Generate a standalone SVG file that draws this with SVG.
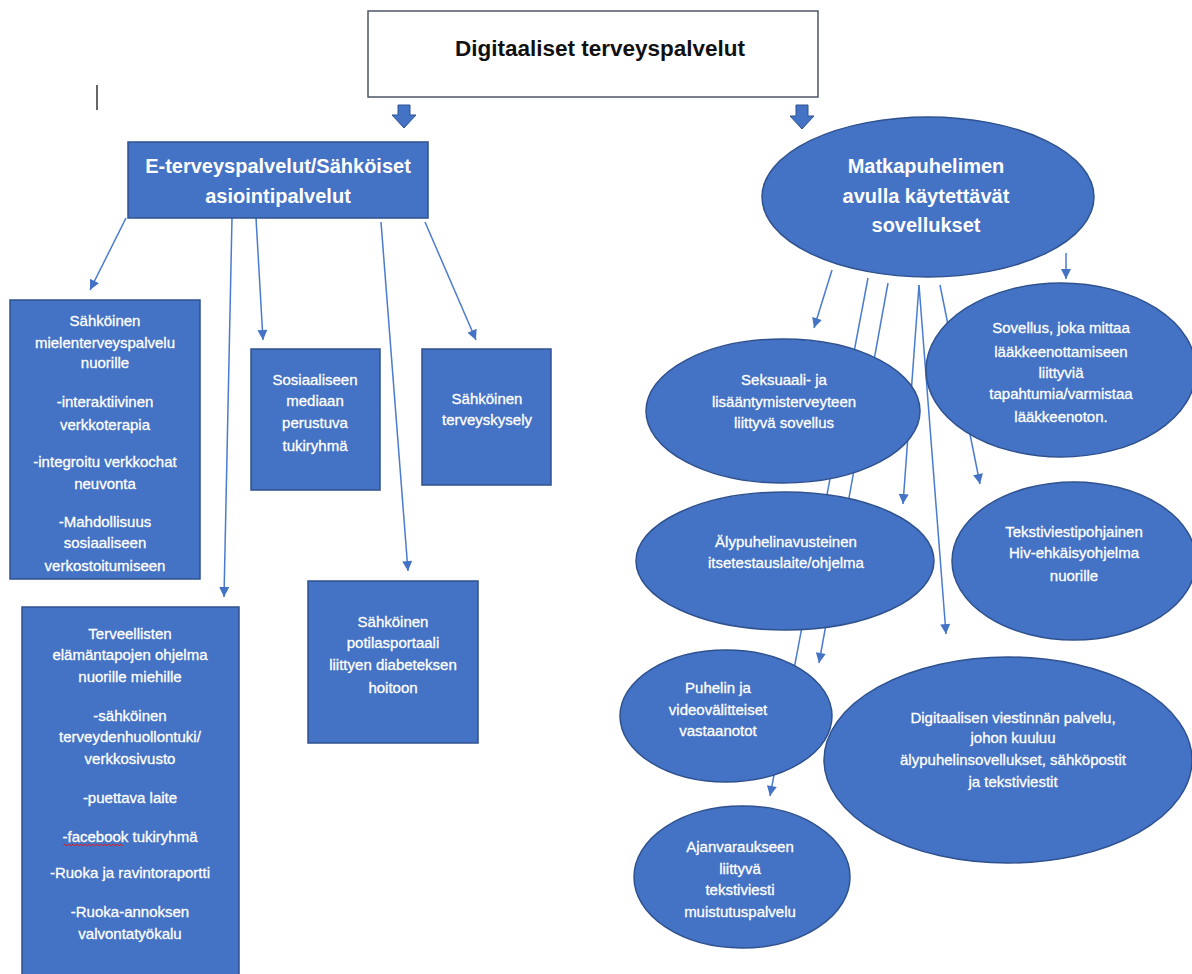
<svg xmlns="http://www.w3.org/2000/svg" width="1192" height="974" viewBox="0 0 1192 974">
<defs>
<marker id="ah" viewBox="0 0 10 10" refX="10" refY="5" markerWidth="11" markerHeight="10" markerUnits="userSpaceOnUse" orient="auto">
<path d="M0,0 L10,5 L0,10 z" fill="#4472C4"/>
</marker>
<style>
.node{fill:#4472C4;stroke:#2F528F;stroke-width:1.5}
.t{font-family:"Liberation Sans",Arial,sans-serif;font-size:15px;fill:#ffffff;stroke:#ffffff;stroke-width:0.3;text-anchor:middle}
.tb{font-family:"Liberation Sans",Arial,sans-serif;font-size:20px;font-weight:bold;fill:#ffffff;text-anchor:middle}
.conn line{stroke:#4A7BD0;stroke-width:1.5;marker-end:url(#ah)}
.barrow{fill:#4472C4;stroke:#2F528F;stroke-width:1}
</style>
</defs>
<rect width="1192" height="974" fill="#ffffff"/>

<line x1="97" y1="85" x2="97" y2="110" stroke="#333" stroke-width="1.5"/>

<g id="conn" class="conn">
<line x1="126" y1="218" x2="90" y2="290"/>
<line x1="232" y1="218" x2="224" y2="597"/>
<line x1="256" y1="218" x2="263" y2="340"/>
<line x1="381" y1="222" x2="408" y2="571"/>
<line x1="425" y1="222" x2="476" y2="340"/>
<line x1="832" y1="270" x2="814" y2="328"/>
<line x1="868" y1="278" x2="770" y2="796"/>
<line x1="888" y1="283" x2="819" y2="663"/>
<line x1="919" y1="285" x2="903" y2="504"/>
<line x1="919" y1="285" x2="946" y2="634"/>
<line x1="940" y1="285" x2="980" y2="484"/>
<line x1="1066" y1="253" x2="1066" y2="279"/>
</g>

<g id="title">
<rect x="368" y="11" width="450" height="86" fill="#ffffff" stroke="#4d5566" stroke-width="1.5"/>
<text x="600" y="56" font-family="Liberation Sans,Arial,sans-serif" font-size="22.5" font-weight="bold" fill="#111" text-anchor="middle">Digitaaliset terveyspalvelut</text>
</g>

<g id="arrows-block">
<polygon class="barrow" points="398,105 410,105 410,115 416,115 404,128 392,115 398,115"/>
<polygon class="barrow" points="796,105 808,105 808,116 814,116 802,129 790,116 796,116"/>
</g>

<g id="eterveys">
<rect class="node" x="128" y="142" width="300" height="76"/>
<text class="tb" x="278" y="173">E-terveyspalvelut/Sähköiset</text>
<text class="tb" x="278" y="203">asiointipalvelut</text>
</g>

<g id="boxA">
<rect class="node" x="10" y="300" width="190" height="279"/>
<text class="t" x="105" y="326">Sähköinen</text>
<text class="t" x="105" y="348">mielenterveyspalvelu</text>
<text class="t" x="105" y="368">nuorille</text>
<text class="t" x="105" y="407">-interaktiivinen</text>
<text class="t" x="105" y="430">verkkoterapia</text>
<text class="t" x="105" y="467">-integroitu verkkochat</text>
<text class="t" x="105" y="489">neuvonta</text>
<text class="t" x="105" y="527">-Mahdollisuus</text>
<text class="t" x="105" y="548">sosiaaliseen</text>
<text class="t" x="105" y="571">verkostoitumiseen</text>
</g>

<g id="boxB">
<rect class="node" x="251" y="349" width="129" height="141"/>
<text class="t" x="315" y="385">Sosiaaliseen</text>
<text class="t" x="315" y="406">mediaan</text>
<text class="t" x="315" y="428">perustuva</text>
<text class="t" x="315" y="451">tukiryhmä</text>
</g>

<g id="boxC">
<rect class="node" x="422" y="349" width="129" height="136"/>
<text class="t" x="487" y="404">Sähköinen</text>
<text class="t" x="487" y="425">terveyskysely</text>
</g>

<g id="boxD">
<rect class="node" x="308" y="581" width="170" height="162"/>
<text class="t" x="393" y="627">Sähköinen</text>
<text class="t" x="393" y="648">potilasportaali</text>
<text class="t" x="393" y="670">liittyen diabeteksen</text>
<text class="t" x="393" y="693">hoitoon</text>
</g>

<g id="boxE">
<rect class="node" x="22" y="607" width="217" height="380"/>
<text class="t" x="130" y="639">Terveellisten</text>
<text class="t" x="130" y="660">elämäntapojen ohjelma</text>
<text class="t" x="130" y="682">nuorille miehille</text>
<text class="t" x="130" y="721">-sähköinen</text>
<text class="t" x="130" y="742">terveydenhuollontuki/</text>
<text class="t" x="130" y="764">verkkosivusto</text>
<text class="t" x="130" y="803">-puettava laite</text>
<text class="t" x="130" y="842">-facebook tukiryhmä</text>
<path d="M63,846 l2,-2 l2,2 l2,-2 l2,2 l2,-2 l2,2 l2,-2 l2,2 l2,-2 l2,2 l2,-2 l2,2 l2,-2 l2,2 l2,-2 l2,2 l2,-2 l2,2 l2,-2 l2,2 l2,-2 l2,2 l2,-2 l2,2 l2,-2 l2,2 l2,-2 l2,2 l2,-2 l2,2" fill="none" stroke="#e02020" stroke-width="1"/>
<text class="t" x="130" y="878">-Ruoka ja ravintoraportti</text>
<text class="t" x="130" y="917">-Ruoka-annoksen</text>
<text class="t" x="130" y="939">valvontatyökalu</text>
</g>

<g id="mobile">
<ellipse class="node" cx="928" cy="197" rx="166" ry="80"/>
<text class="tb" x="926" y="173">Matkapuhelimen</text>
<text class="tb" x="926" y="203">avulla käytettävät</text>
<text class="tb" x="926" y="232">sovellukset</text>
</g>

<g id="seksuaali">
<ellipse class="node" cx="783" cy="411" rx="137" ry="72"/>
<text class="t" x="784" y="385">Seksuaali- ja</text>
<text class="t" x="784" y="407">lisääntymisterveyteen</text>
<text class="t" x="784" y="428">liittyvä sovellus</text>
</g>

<g id="sovellus">
<ellipse class="node" cx="1061" cy="370" rx="135" ry="87"/>
<text class="t" x="1061" y="333">Sovellus, joka mittaa</text>
<text class="t" x="1061" y="357">lääkkeenottamiseen</text>
<text class="t" x="1061" y="378">liittyviä</text>
<text class="t" x="1061" y="399">tapahtumia/varmistaa</text>
<text class="t" x="1061" y="422">lääkkeenoton.</text>
</g>

<g id="alypuhelin">
<ellipse class="node" cx="785" cy="561" rx="149" ry="69"/>
<text class="t" x="786" y="547">Älypuhelinavusteinen</text>
<text class="t" x="786" y="568">itsetestauslaite/ohjelma</text>
</g>

<g id="tekstiviesti">
<ellipse class="node" cx="1074" cy="561" rx="122" ry="79"/>
<text class="t" x="1074" y="537">Tekstiviestipohjainen</text>
<text class="t" x="1074" y="558">Hiv-ehkäisyohjelma</text>
<text class="t" x="1074" y="581">nuorille</text>
</g>

<g id="puhelin">
<ellipse class="node" cx="726" cy="716" rx="106" ry="66"/>
<text class="t" x="718" y="693">Puhelin ja</text>
<text class="t" x="718" y="715">videovälitteiset</text>
<text class="t" x="718" y="736">vastaanotot</text>
</g>

<g id="digitaalisen">
<ellipse class="node" cx="1008" cy="760" rx="184" ry="103"/>
<text class="t" x="1013" y="723">Digitaalisen viestinnän palvelu,</text>
<text class="t" x="1013" y="743">johon kuuluu</text>
<text class="t" x="1013" y="765">älypuhelinsovellukset, sähköpostit</text>
<text class="t" x="1013" y="787">ja tekstiviestit</text>
</g>

<g id="ajanvaraus">
<ellipse class="node" cx="742" cy="877" rx="108" ry="71"/>
<text class="t" x="740" y="852">Ajanvaraukseen</text>
<text class="t" x="740" y="874">liittyvä</text>
<text class="t" x="740" y="895">tekstiviesti</text>
<text class="t" x="740" y="917">muistutuspalvelu</text>
</g>
</svg>
